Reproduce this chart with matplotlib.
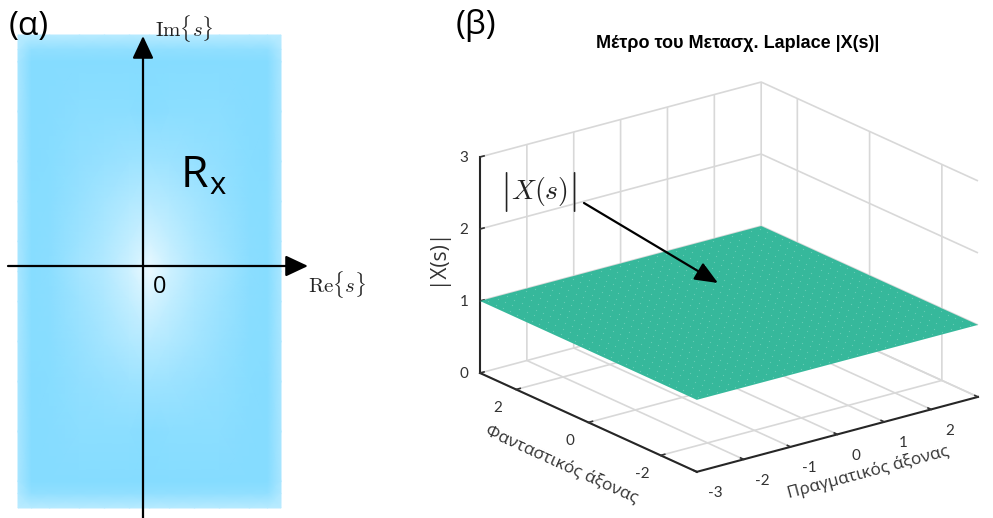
import numpy as np
import matplotlib
matplotlib.use("Agg")
import matplotlib.pyplot as plt
from matplotlib.colors import LinearSegmentedColormap
from matplotlib.transforms import Affine2D
from mpl_toolkits.mplot3d import proj3d

# ---------- data ----------
re_ticks = [-3, -2, -1, 0, 1, 2, 3]
im_ticks = [-2, 0, 2]
mag_ticks = [0, 1, 2, 3]
re_limits = [-3, 3]
im_limits = [-3, 3]
mag_limits = [0, 3]
surface_level = 1.0
surface_nodes = 61

# ROC shading: whiteness read at offsets from the centre of the strip (pixels)
shade_dx = [0, 20, 45, 70, 100, 118, 131.5]
shade_dy = [0, 30, 70, 110, 160, 210, 222, 236.5]
shade_t = [
    [.85, .60, .38, .25, .05, .02, .30],
    [.65, .50, .33, .20, .04, .02, .30],
    [.42, .36, .25, .15, .03, .02, .30],
    [.22, .20, .15, .10, .02, .00, .30],
    [.03, .05, .05, .05, .01, .00, .30],
    [.00, .00, .00, .00, .00, .00, .30],
    [.10, .10, .10, .10, .10, .10, .35],
    [.42, .42, .42, .42, .42, .42, .45],
]

title = "Μέτρο του Μετασχ. Laplace |X(s)|"
xlabel3d = "Πραγματικός άξονας"
ylabel3d = "Φανταστικός άξονας"
zlabel3d = "|X(s)|"

W, H = 993, 518
fig = plt.figure(figsize=(W / 100, H / 100), dpi=100, facecolor="white")
plt.rcParams["font.family"] = ["Open Sans", "DejaVu Sans"]
plt.rcParams["mathtext.fontset"] = "cm"
plt.rcParams["axes.unicode_minus"] = False

# ---------- 3D panel ----------
AX_DARK = "#262626"
TXT = "#333333"
GRID = "#D8D8D8"
plt.rcParams["grid.color"] = GRID
plt.rcParams["grid.linewidth"] = 1.2

ax3 = fig.add_axes([0.4, 0.0, 0.5, 0.5 * W / H], projection="3d", proj_type="ortho",
                   computed_zorder=False)
ax3.set_facecolor("none")
ax3.view_init(elev=20.4, azim=-127.4)
ax3.set_box_aspect((354, 357, 230.5))
ax3.set_xlim(*re_limits, view_margin=0)
ax3.set_ylim(*im_limits, view_margin=0)
ax3.set_zlim(*mag_limits, view_margin=0)
ax3.set_xticks(re_ticks)
ax3.set_yticks(im_ticks)
ax3.set_zticks(mag_ticks)

gx = np.linspace(re_limits[0], re_limits[1], surface_nodes)
gy = np.linspace(im_limits[0], im_limits[1], surface_nodes)
X, Y = np.meshgrid(gx, gy)
Z = np.full_like(X, surface_level)
ax3.plot_surface(X, Y, Z, color="#36B89B", shade=False, linewidth=0,
                 antialiased=True, rstride=surface_nodes - 1, cstride=surface_nodes - 1, zorder=2)
ax3.scatter(X[1:-1:2, 1:-1:2].ravel(), Y[1:-1:2, 1:-1:2].ravel(), Z[1:-1:2, 1:-1:2].ravel(),
            s=0.8, c="#66CBB5", linewidths=0, depthshade=False, zorder=3)

for axis in (ax3.xaxis, ax3.yaxis, ax3.zaxis):
    axis.set_pane_color((1, 1, 1, 0))
    axis.pane.set_edgecolor(GRID)
    axis.line.set_color(AX_DARK)
    axis.line.set_linewidth(1.5)
    axis._axinfo["tick"]["inward_factor"] = 0.0
    axis._axinfo["tick"]["outward_factor"] = 0.18
    axis._axinfo["tick"]["linewidth"] = {True: 1.2, False: 0.5}
    axis._axinfo["tick"]["color"] = AX_DARK
    axis._axinfo["grid"]["color"] = GRID
    axis._axinfo["grid"]["linewidth"] = 1.2

ax3.tick_params(axis="both", labelsize=11, colors=TXT, pad=3, labelfontfamily="Lato")
ax3.tick_params(axis="z", labelsize=11, colors=TXT, pad=0, labelfontfamily="Lato")
ax3.set_xlabel(xlabel3d, fontsize=12.3, color=TXT, labelpad=6)
ax3.set_ylabel(ylabel3d, fontsize=12.3, color=TXT, labelpad=6)
ax3.set_zlabel(zlabel3d, fontsize=15, color=TXT, labelpad=4)


def nudge(axis, tick_dx, tick_dy, label_dx, label_dy):
    """Shift an axis' tick labels and title by screen pixels (y upward)."""
    off = ax3.transData + Affine2D().translate(tick_dx, tick_dy)
    original = axis.get_major_ticks

    def patched(numticks=None):
        ticks = original(numticks)
        for tk in ticks:
            tk.label1.set_transform(off)
        return ticks

    axis.get_major_ticks = patched
    label_off = ax3.transData + Affine2D().translate(label_dx, label_dy)
    axis.label.get_transform = lambda: label_off


nudge(ax3.xaxis, 7, 3, 2, 4)
nudge(ax3.yaxis, -3, 4, 11, -3)
nudge(ax3.zaxis, 4, 5, 18, 6)


def corner_px(ax, p):
    fig.canvas.draw()
    x2, y2, _ = proj3d.proj_transform(p[0], p[1], p[2], ax.get_proj())
    return ax.transData.transform((x2, y2))


# place the box so its left and right floor corners land where the reference has them
target_left = np.array([480.0, H - 373.0])
target_right = np.array([978.0, H - 397.0])
a = corner_px(ax3, (-3, 3, 0))
b = corner_px(ax3, (3, -3, 0))
pos = ax3.get_position()
k = (target_right[0] - target_left[0]) / (b[0] - a[0])
side = pos.width * W * k
ax3.set_position([pos.x0, pos.y0, side / W, side / H])
a = corner_px(ax3, (-3, 3, 0))
pos = ax3.get_position()
shift = target_left - a
ax3.set_position([pos.x0 + shift[0] / W, pos.y0 + shift[1] / H, pos.width, pos.height])

# ---------- 2D overlay in reference pixels ----------
ov = fig.add_axes([0, 0, 1, 1], zorder=5)
ov.set_xlim(0, W)
ov.set_ylim(H, 0)
ov.axis("off")
ov.patch.set_alpha(0)

cx, cy = 149.5, 271.5
dx = np.array(shade_dx)
dy = np.array(shade_dy)
t = np.array(shade_t)
xs = np.concatenate([cx - dx[::-1], cx + dx[1:]])
ys = np.concatenate([cy - dy[::-1], cy + dy[1:]])
t_full = np.hstack([t[:, ::-1], t[:, 1:]])
t_full = np.vstack([t_full[::-1], t_full[1:]])
cmap = LinearSegmentedColormap.from_list("roc", ["#85DCFF", "#FFFFFF"])
ov.pcolormesh(xs, ys, t_full, shading="gouraud", cmap=cmap, vmin=0, vmax=1, zorder=1)

arrow = dict(arrowstyle="-|>,head_length=0.98,head_width=0.46", color="black", lw=1.6,
             shrinkA=0, shrinkB=0, mutation_scale=14)
ov.annotate("", xy=(308, 266), xytext=(8, 266), arrowprops=arrow, zorder=3)
ov.annotate("", xy=(143, 36), xytext=(143, 518), arrowprops=arrow, zorder=3)
arrow2 = dict(arrowstyle="-|>,head_length=1.0,head_width=0.42", color="black", lw=1.6,
              shrinkA=0, shrinkB=0, mutation_scale=14)
ov.annotate("", xy=(718, 283), xytext=(584, 203), arrowprops=arrow2, zorder=3)

ov.text(9, 27, "(α)", fontsize=24, color="black", va="center", ha="left")
ov.text(456, 26, "(β)", fontsize=24, color="black", va="center", ha="left")
ov.text(180, 187, r"R$_{\mathregular{x}}$", fontsize=32, color="black", va="baseline", ha="left")
ov.text(153, 287, "0", fontsize=17, color="black", va="center", ha="left")
ov.text(155, 28, r"$\mathrm{Im}\{s\}$", fontsize=15, color="#222222", va="center", ha="left")
ov.text(308, 285, r"$\mathrm{Re}\{s\}$", fontsize=15, color="#222222", va="center", ha="left")
ov.text(511, 192, r"$X(s)$", fontsize=20, color="#222222", va="center", ha="left")
ov.text(504, 192, r"$|$", fontsize=29, color="#222222", va="center", ha="center")
ov.text(572, 192, r"$|$", fontsize=29, color="#222222", va="center", ha="center")
ov.text(738, 43, title, fontsize=13, fontweight="bold", family="Liberation Sans",
        color="black", ha="center", va="center")

fig.savefig("out.png", dpi=100)
